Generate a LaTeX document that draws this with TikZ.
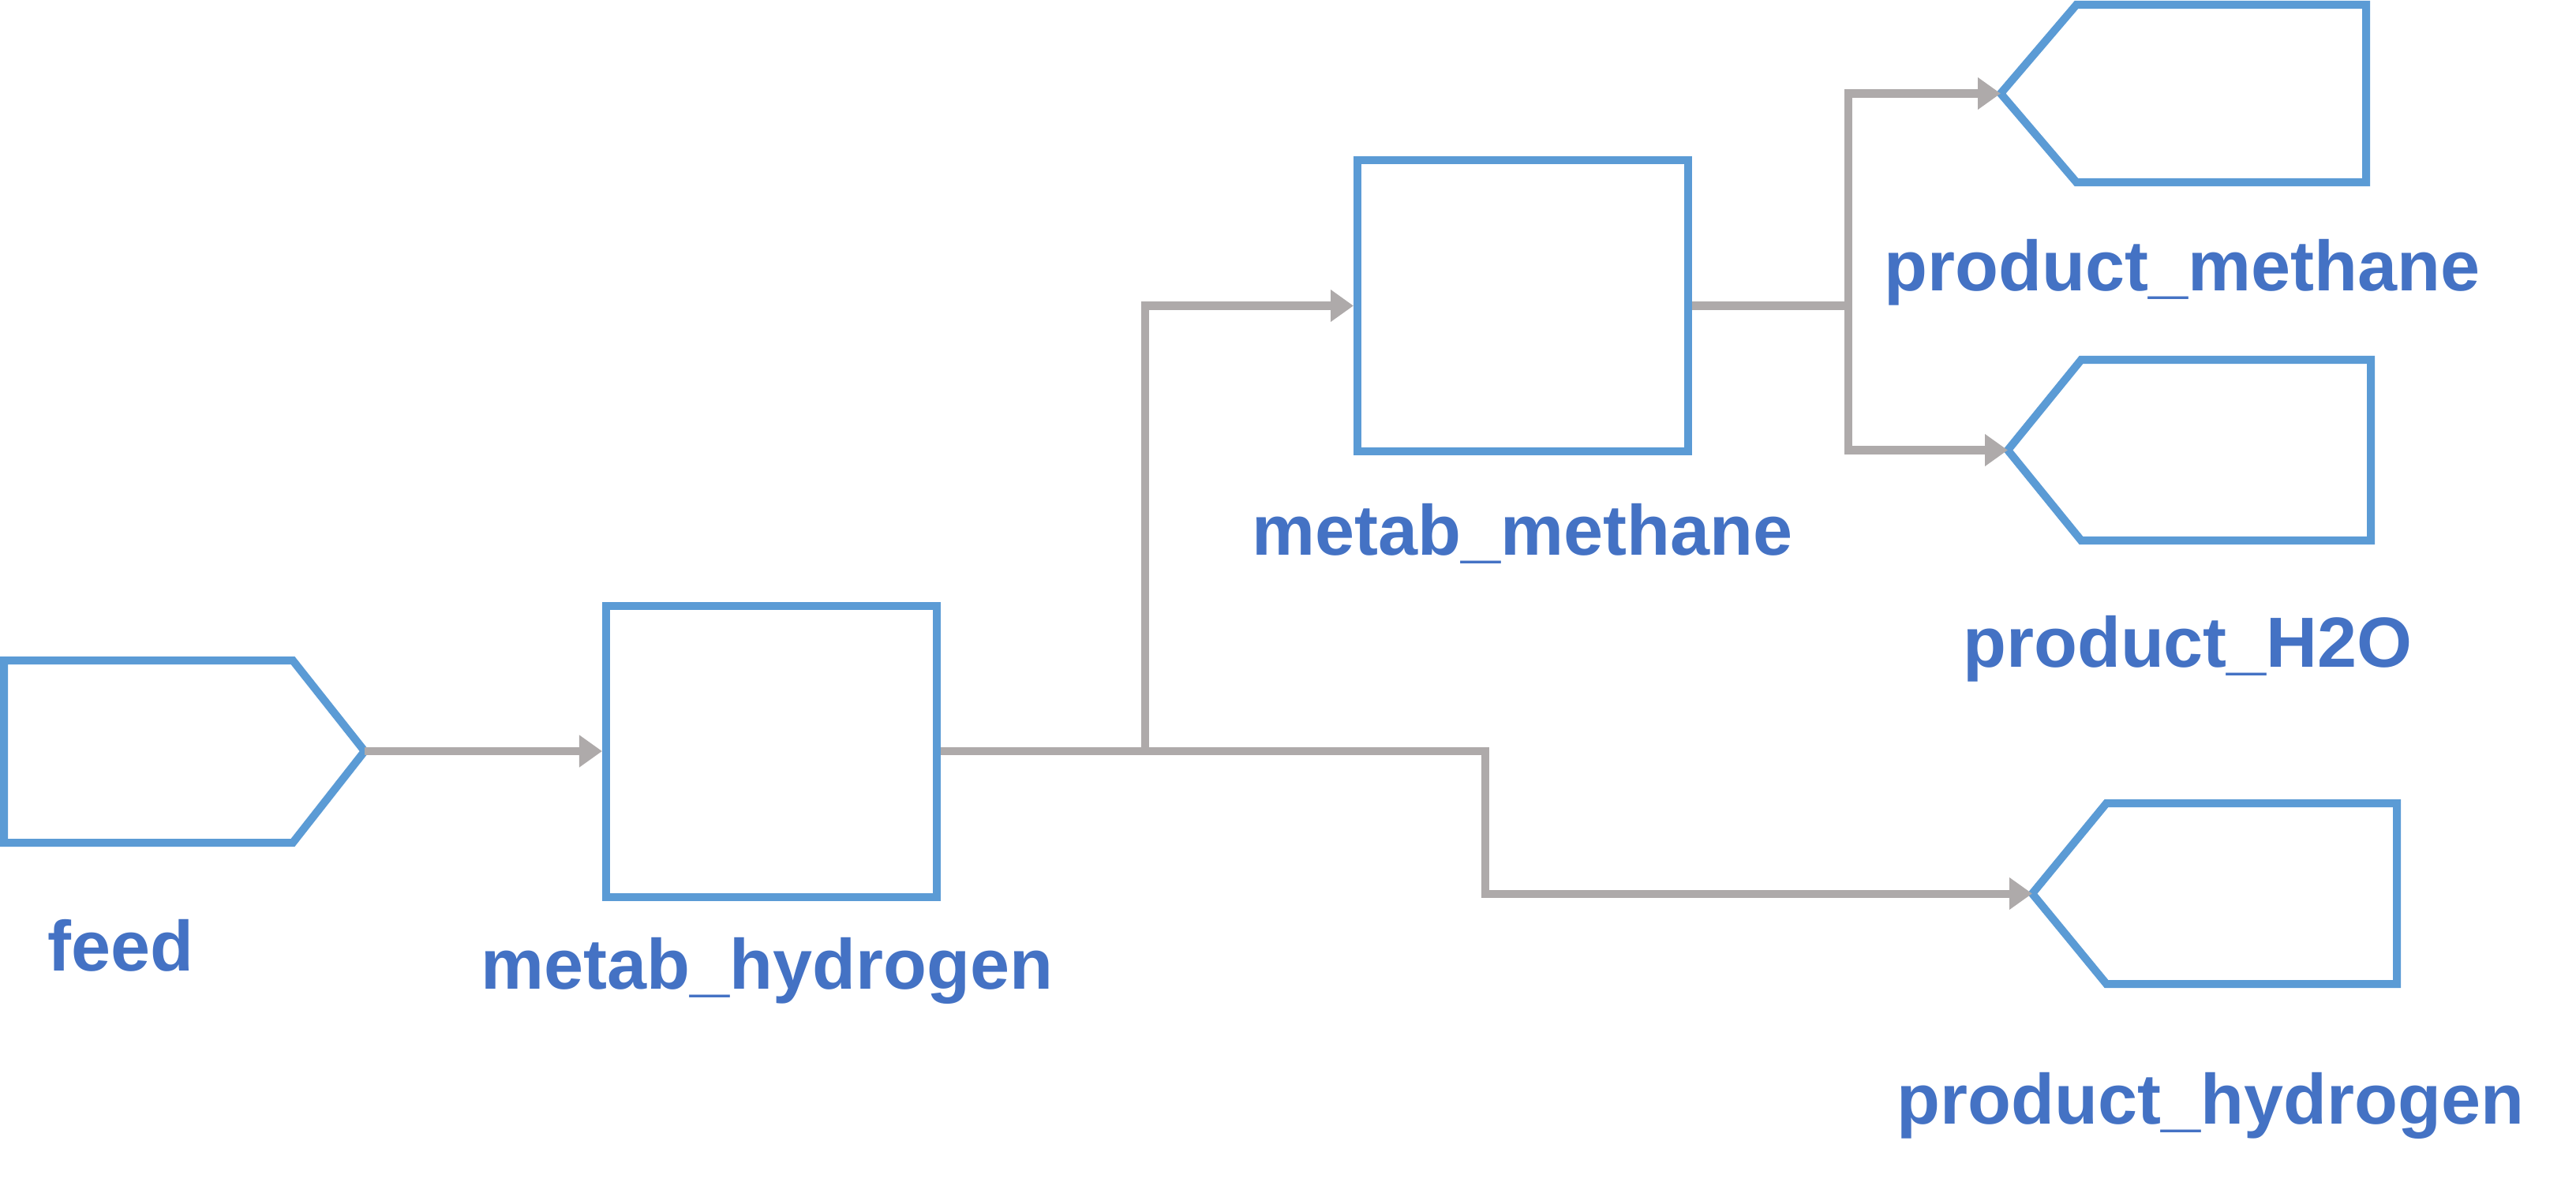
\documentclass[tikz,border=0pt]{standalone}
\usepackage{fontspec}
\setmainfont{Liberation Sans}
\usetikzlibrary{arrows.meta}

\definecolor{unitblue}{HTML}{5B9BD5}
\definecolor{labelblue}{HTML}{4472C4}
\definecolor{streamgray}{HTML}{AEAAAA}

\begin{document}
\begin{tikzpicture}[
    unit/.style={draw=unitblue, line width=2.85pt, minimum width=4.19cm, minimum height=3.69cm, inner sep=0pt},
    port/.style={draw=unitblue, line width=2.85pt},
    stream/.style={draw=streamgray, line width=2.85pt, -{Triangle[length=0.29cm, width=0.39cm]}},
    unitlabel/.style={text=labelblue, font=\bfseries\fontsize{25.6}{30}\selectfont, anchor=base, inner sep=0pt}
]
\useasboundingbox (0,0) rectangle (32.64,-14.98);

    % Units
    \node[unit] (hyd) at (9.775,-9.52) {};
    \node[unit] (meth) at (19.295,-3.875) {};

    % Feed and product ports
    \draw[port] (0.05,-8.37) -- (3.71,-8.37) -- (4.62,-9.52) -- (3.71,-10.68) -- (0.05,-10.68) -- cycle;
    \draw[port] (25.35,-1.185) -- (26.31,-0.06) -- (29.98,-0.06) -- (29.98,-2.31) -- (26.31,-2.31) -- cycle;
    \draw[port] (25.44,-5.705) -- (26.37,-4.56) -- (30.04,-4.56) -- (30.04,-6.85) -- (26.37,-6.85) -- cycle;
    \draw[port] (25.75,-11.325) -- (26.69,-10.18) -- (30.37,-10.18) -- (30.37,-12.47) -- (26.69,-12.47) -- cycle;

    \coordinate (feed) at (4.62,-9.52);
    \coordinate (pmeth) at (25.35,-1.185);
    \coordinate (ph2o) at (25.44,-5.705);
    \coordinate (phyd) at (25.75,-11.325);

    % Branch points
    \coordinate (split1) at (14.51,-9.52);
    \coordinate (bend1) at (18.82,-9.52);
    \coordinate (split2) at (23.42,-3.875);

    % Streams
    \draw[stream] (feed) -- (hyd.west);
    \draw[stream] (hyd.east) -- (split1) |- (meth.west);
    \draw[stream] (split1) -- (bend1) |- (phyd);
    \draw[stream] (meth.east) -- (split2) |- (pmeth);
    \draw[stream] (split2) |- (ph2o);

    % Labels
    \node[unitlabel] (lfeed) at (1.53,-12.30) {feed};
    \node[unitlabel] (lhyd) at (9.72,-12.53) {metab\_hydrogen};
    \node[unitlabel] (lmeth) at (19.29,-7.03) {metab\_methane};
    \node[unitlabel] (lpmeth) at (27.65,-3.68) {product\_methane};
    \node[unitlabel] (lph2o) at (27.72,-8.45) {product\_H2O};
    \node[unitlabel] (lphyd) at (28.01,-14.24) {product\_hydrogen};

\end{tikzpicture}
\end{document}
